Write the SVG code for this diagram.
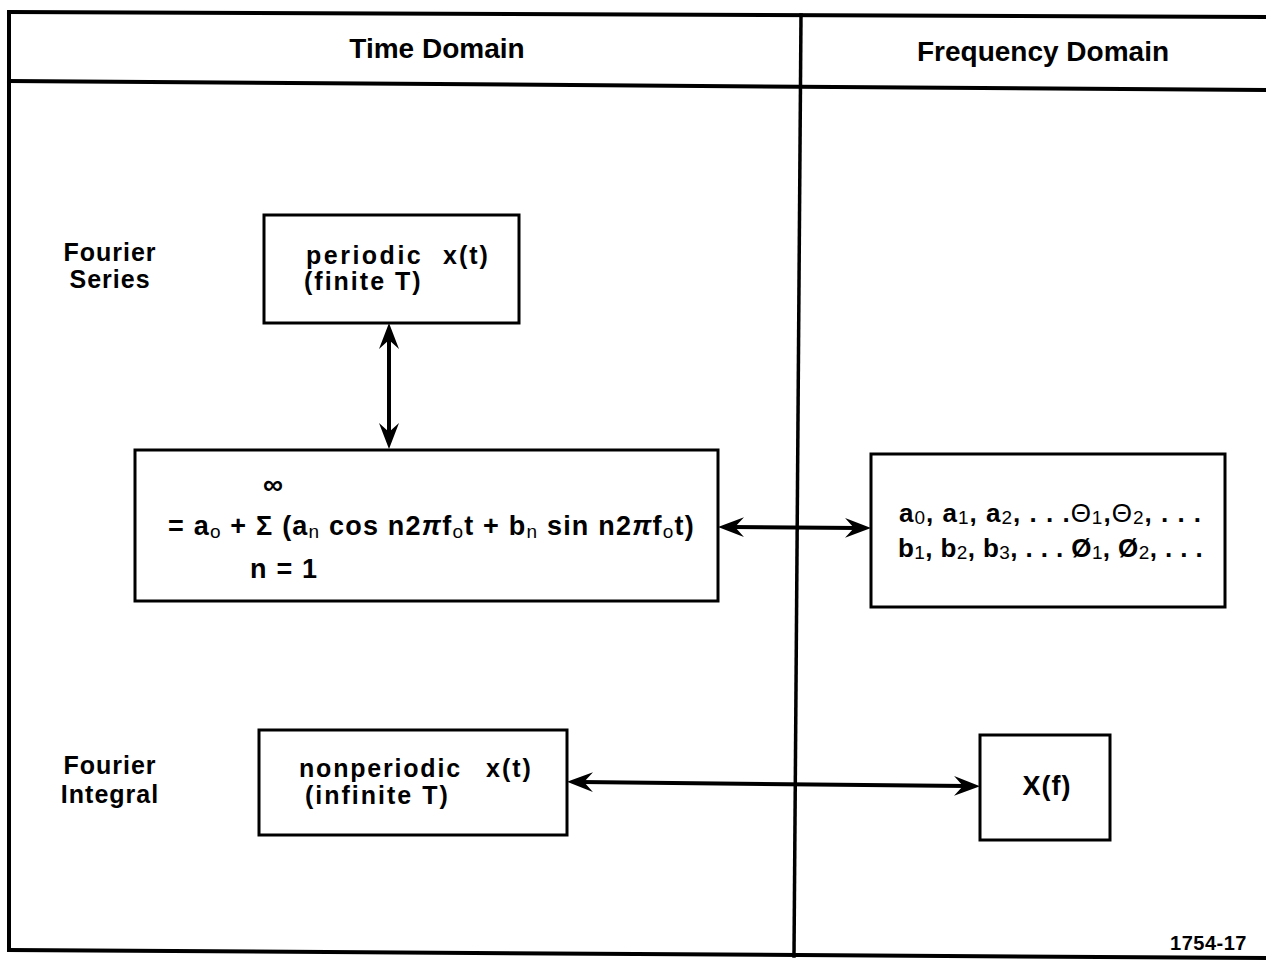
<svg xmlns="http://www.w3.org/2000/svg" width="1266" height="963" viewBox="0 0 1266 963">
<style>
.frame{stroke:#000;stroke-width:4;fill:none;stroke-linecap:square}
.box{stroke:#000;stroke-width:3;fill:#fff}
.t{font-family:"Liberation Sans",Arial,sans-serif;font-weight:bold;font-size:28px;fill:#000}
.l{font-family:"Liberation Sans",Arial,sans-serif;font-weight:bold;font-size:25px;fill:#000;letter-spacing:1px}
.f{font-family:"Liberation Sans",Arial,sans-serif;font-weight:bold;font-size:27px;fill:#000;letter-spacing:1.2px}
.c{font-family:"Liberation Sans",Arial,sans-serif;font-weight:bold;font-size:26px;fill:#000;letter-spacing:1px}
.sub{font-weight:normal;font-size:19px}
.conn{stroke:#000;stroke-width:4;fill:none}
</style>
<defs>
<marker id="ah" viewBox="-26 -11 26 22" refX="-14" refY="0" markerWidth="26" markerHeight="22" orient="auto-start-reverse" markerUnits="userSpaceOnUse">
<path d="M0,0 L-26,-10 L-17,0 L-26,10 Z" fill="#000"/>
</marker>
</defs>
<rect width="1266" height="963" fill="#fff"/>
<g id="frame">
<line class="frame" x1="9" y1="12" x2="1266" y2="17"/>
<line class="frame" x1="9" y1="81" x2="1266" y2="90"/>
<line class="frame" x1="9" y1="12" x2="9" y2="950"/>
<line class="frame" x1="9" y1="950" x2="1266" y2="958"/>
<line class="frame" x1="801" y1="15" x2="794" y2="956" style="stroke-width:3.5"/>
</g>
<g id="headers">
<text class="t" x="437" y="58" text-anchor="middle">Time Domain</text>
<text class="t" x="1043" y="61" text-anchor="middle">Frequency Domain</text>
</g>
<g id="row-labels">
<text class="l" x="110" y="261" text-anchor="middle">Fourier</text>
<text class="l" x="110" y="288" text-anchor="middle">Series</text>
<text class="l" x="110" y="774" text-anchor="middle">Fourier</text>
<text class="l" x="110" y="803" text-anchor="middle">Integral</text>
</g>
<g id="connectors">
<line class="conn" x1="389" y1="337" x2="389" y2="435" marker-start="url(#ah)" marker-end="url(#ah)"/>
<line class="conn" x1="732" y1="527" x2="857" y2="528" marker-start="url(#ah)" marker-end="url(#ah)"/>
<line class="conn" x1="581" y1="782" x2="966" y2="786" marker-start="url(#ah)" marker-end="url(#ah)"/>
</g>
<g id="periodic">
<rect class="box" x="264" y="215" width="255" height="108"/>
<text class="l" x="306" y="264" style="letter-spacing:2.5px">periodic</text>
<text class="l" x="443" y="264" style="letter-spacing:2px">x(t)</text>
<text class="l" x="304" y="290" style="letter-spacing:2px">(finite T)</text>
</g>
<g id="series">
<rect class="box" x="135" y="450" width="583" height="151"/>
<text class="t" x="273" y="494" text-anchor="middle">∞</text>
<text class="f" x="168" y="535">= a<tspan class="sub" dy="3">o</tspan><tspan dy="-3"> + Σ (a</tspan><tspan class="sub" dy="3">n</tspan><tspan dy="-3"> cos n2</tspan><tspan font-style="italic">π</tspan>f<tspan class="sub" dy="3">o</tspan><tspan dy="-3">t + b</tspan><tspan class="sub" dy="3">n</tspan><tspan dy="-3"> sin n2</tspan><tspan font-style="italic">π</tspan>f<tspan class="sub" dy="3">o</tspan><tspan dy="-3">t)</tspan></text>
<text class="f" x="250" y="578">n = 1</text>
</g>
<g id="coefficients">
<rect class="box" x="871" y="454" width="354" height="153"/>
<text class="c" x="899" y="522">a<tspan class="sub" dy="2">0</tspan><tspan dy="-2">, a</tspan><tspan class="sub" dy="2">1</tspan><tspan dy="-2">, a</tspan><tspan class="sub" dy="2">2</tspan><tspan dy="-2">, . . .</tspan><tspan font-weight="normal">Θ</tspan><tspan class="sub" dy="2">1</tspan><tspan dy="-2">,</tspan><tspan font-weight="normal">Θ</tspan><tspan class="sub" dy="2">2</tspan><tspan dy="-2">, . . .</tspan></text>
<text class="c" x="898" y="557" style="letter-spacing:0.4px">b<tspan class="sub" dy="2">1</tspan><tspan dy="-2">, b</tspan><tspan class="sub" dy="2">2</tspan><tspan dy="-2">, b</tspan><tspan class="sub" dy="2">3</tspan><tspan dy="-2">, . . . Ø</tspan><tspan class="sub" dy="2">1</tspan><tspan dy="-2">, Ø</tspan><tspan class="sub" dy="2">2</tspan><tspan dy="-2">, . . .</tspan></text>
</g>
<g id="nonperiodic">
<rect class="box" x="259" y="730" width="308" height="105"/>
<text class="l" x="299" y="777" style="letter-spacing:1.8px">nonperiodic</text>
<text class="l" x="486" y="777" style="letter-spacing:2px">x(t)</text>
<text class="l" x="305" y="804" style="letter-spacing:2px">(infinite T)</text>
</g>
<g id="transform">
<rect class="box" x="980" y="735" width="130" height="105"/>
<text class="l" x="1047" y="795" text-anchor="middle" style="font-size:27px">X(f)</text>
</g>
<g id="figure-number">
<text class="t" x="1247" y="950" text-anchor="end" style="font-size:20px;letter-spacing:0.5px">1754-17</text>
</g>
</svg>
